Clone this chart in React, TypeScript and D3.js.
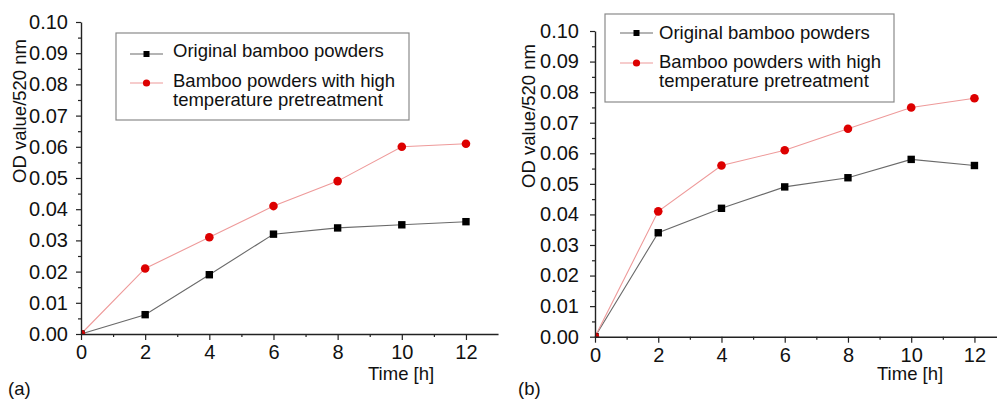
import * as d3 from "d3";
import React, { useEffect, useRef } from "react";

// time points [h]
const hours = [0, 2, 4, 6, 8, 10, 12];
const minorHours = [1, 3, 5, 7, 9, 11];
// panel (a)
const originalA = [0, 0.0062, 0.019, 0.032, 0.034, 0.035, 0.036];
const pretreatedA = [0, 0.021, 0.031, 0.041, 0.049, 0.06, 0.061];
// panel (b)
const originalB = [0, 0.034, 0.042, 0.049, 0.052, 0.058, 0.056];
const pretreatedB = [0, 0.041, 0.056, 0.061, 0.068, 0.075, 0.078];

const yTicks = [0, 0.01, 0.02, 0.03, 0.04, 0.05, 0.06, 0.07, 0.08, 0.09, 0.1];
const yMinor = [0.005, 0.015, 0.025, 0.035, 0.045, 0.055, 0.065, 0.075, 0.085, 0.095];
const legendOriginal = "Original bamboo powders";
const legendPretreated = ["Bamboo powders with high", "temperature pretreatment"];

const FONT = "'Liberation Sans', Arial, Helvetica, sans-serif";

function Panel(props) {
    const { id, original, pretreated, left, unit, bottom, top, labelGap, ylab, tag, xlab, legend } = props;
    const xRef = useRef();
    const xMinRef = useRef();
    const yRef = useRef();
    const yMinRef = useRef();

    const x = d3.scaleLinear().domain([0, 13]).range([left, left + unit * 13]);
    const y = d3.scaleLinear().domain([0, 0.1]).range([bottom, top]);

    useEffect(() => {
        const style = (g) => {
            g.select(".domain").attr("stroke", "#222").attr("stroke-width", 1.4);
            g.selectAll(".tick line").attr("stroke", "#222").attr("stroke-width", 1.2);
            g.selectAll("text").attr("fill", "#111").attr("font-size", 20).attr("font-family", FONT);
        };
        d3.select(xRef.current)
            .call(d3.axisBottom(x).tickValues(hours).tickSize(6).tickSizeOuter(0).tickPadding(5))
            .call(style);
        d3.select(xMinRef.current)
            .call(d3.axisBottom(x).tickValues(minorHours).tickSize(3).tickFormat(() => ""))
            .call((g) => g.select(".domain").remove())
            .call(style);
        d3.select(yRef.current)
            .call(d3.axisLeft(y).tickValues(yTicks).tickFormat(d3.format(".2f")).tickSize(5).tickSizeOuter(0).tickPadding(labelGap))
            .call(style);
        d3.select(yMinRef.current)
            .call(d3.axisLeft(y).tickValues(yMinor).tickSize(3).tickFormat(() => ""))
            .call((g) => g.select(".domain").remove())
            .call(style);
    }, []);

    const line = d3
        .line()
        .x((d, i) => x(hours[i]))
        .y((d) => y(d));

    const clipId = "clip-" + id;

    return (
        <g>
            <defs>
                <clipPath id={clipId}>
                    <rect x={left} y={0} width={unit * 14} height={bottom} />
                </clipPath>
            </defs>
            <path d={line(original)} fill="none" stroke="#6a6a6a" strokeWidth={1.1} />
            <path d={line(pretreated)} fill="none" stroke="#ee9a9a" strokeWidth={1.1} />
            <g clipPath={`url(#${clipId})`}>
                {original.map((v, i) => (
                    <rect key={"o" + i} x={x(hours[i]) - 3.7} y={y(v) - 3.7} width={7.4} height={7.4} fill="#000" />
                ))}
                {pretreated.map((v, i) => (
                    <circle key={"p" + i} cx={x(hours[i])} cy={y(v)} r={4.3} fill="#dd0000" />
                ))}
            </g>
            <g ref={xMinRef} transform={`translate(0,${bottom})`} />
            <g ref={xRef} transform={`translate(0,${bottom})`} />
            <g ref={yMinRef} transform={`translate(${left},0)`} />
            <g ref={yRef} transform={`translate(${left},0)`} />

            <text x={xlab[0]} y={xlab[1]} fontSize={18.5} fontFamily={FONT} fill="#111">
                Time [h]
            </text>
            <text
                transform={`translate(${ylab[0]},${ylab[1]}) rotate(-90)`}
                textAnchor="middle"
                fontSize={18.5}
                fontFamily={FONT}
                fill="#111"
            >
                OD value/520 nm
            </text>
            <text x={tag[0]} y={tag[1]} fontSize={18.5} fontFamily={FONT} fill="#111">
                {tag[2]}
            </text>

            {/* legend */}
            <rect x={legend.x} y={legend.y} width={legend.w} height={legend.h} fill="#fff" stroke="#8a8a8a" strokeWidth={1.2} />
            <line x1={legend.lx} x2={legend.lx + 33} y1={legend.m1} y2={legend.m1} stroke="#6a6a6a" strokeWidth={1.1} />
            <rect x={legend.lx + 16.5 - 3} y={legend.m1 - 3} width={6} height={6} fill="#000" />
            <line x1={legend.lx} x2={legend.lx + 33} y1={legend.m2} y2={legend.m2} stroke="#ee9a9a" strokeWidth={1.1} />
            <circle cx={legend.lx + 16.5} cy={legend.m2} r={3.6} fill="#dd0000" />
            <g fontSize={18.5} fontFamily={FONT} fill="#111">
                <text x={legend.tx} y={legend.b1}>{legendOriginal}</text>
                <text x={legend.tx} y={legend.b2}>{legendPretreated[0]}</text>
                <text x={legend.tx} y={legend.b3}>{legendPretreated[1]}</text>
            </g>
        </g>
    );
}

export default function App() {
    return (
        <svg width={997} height={401} style={{ position: "absolute", left: 0, top: 0, background: "#fff" }}>
            <Panel
                id="a"
                original={originalA}
                pretreated={pretreatedA}
                left={81}
                unit={32.08}
                bottom={334}
                top={22}
                labelGap={8}
                ylab={[26, 111]}
                xlab={[368, 380]}
                tag={[8, 395, "(a)"]}
                legend={{ x: 116, y: 33, w: 293, h: 87, lx: 130, tx: 173, m1: 54, m2: 83, b1: 57, b2: 87, b3: 106 }}
            />
            <Panel
                id="b"
                original={originalB}
                pretreated={pretreatedB}
                left={595}
                unit={31.62}
                bottom={336.7}
                top={31}
                labelGap={11}
                ylab={[535, 116]}
                xlab={[877, 380]}
                tag={[518, 395, "(b)"]}
                legend={{ x: 605, y: 14, w: 289, h: 88, lx: 620, tx: 659, m1: 33, m2: 63, b1: 39, b2: 68, b3: 87 }}
            />
        </svg>
    );
}
